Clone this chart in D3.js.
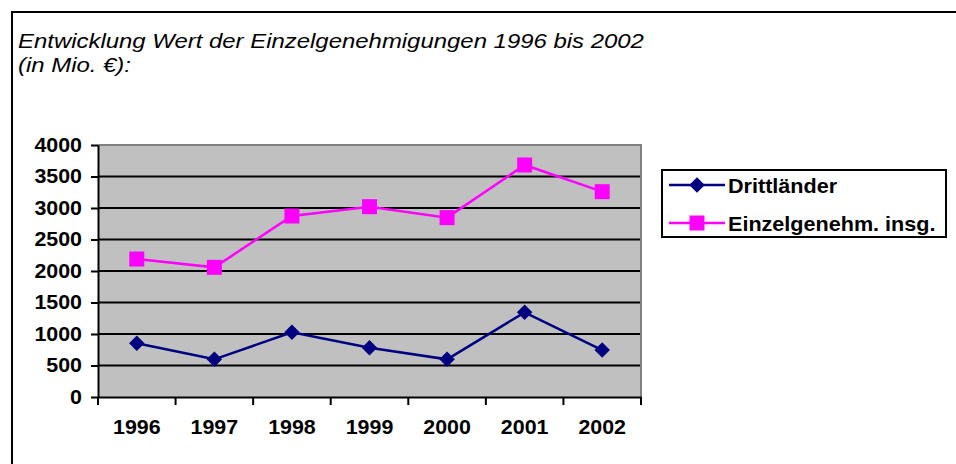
<!DOCTYPE html>
<meta charset="utf-8">
<style>
body { margin: 0; background: #ffffff; }
svg text { font-family: "Liberation Sans", Arial, sans-serif; fill: #000; }
</style>
<body>
<script src="https://cdn.jsdelivr.net/npm/d3@7"></script>
<script>
// DATA
var years = ["1996", "1997", "1998", "1999", "2000", "2001", "2002"];
var drittlaender = [852, 598, 1027, 783, 598, 1344, 746];
var einzelInsg = [2190, 2058, 2873, 3021, 2847, 3683, 3259];
var yTicks = [0, 500, 1000, 1500, 2000, 2500, 3000, 3500, 4000];
var seriesNames = ["Drittländer", "Einzelgenehm. insg."];
var titleLines = ["Entwicklung Wert der Einzelgenehmigungen 1996 bis 2002", "(in Mio. €):"];

// GENERIC VARIABLES
var width = 956, height = 464;
var plot = { left: 98, right: 641, top: 145, bottom: 397 };
var sx = 1.07; // the reference text is drawn a bit wide

var svg = d3.select("body").append("svg")
    .attr("width", width)
    .attr("height", height);

// outer frame (runs off the right and bottom edge)
svg.append("rect")
    .attr("x", 12).attr("y", 12)
    .attr("width", width).attr("height", height)
    .attr("fill", "none").attr("stroke", "#000").attr("stroke-width", 2);

// TITLE
titleLines.forEach(function(t, i) {
  svg.append("text")
    .attr("transform", "translate(18," + (48 + i * 24) + ") scale(1.14,1)")
    .attr("font-size", 21)
    .attr("font-style", "italic")
    .text(t);
});

var x = d3.scaleBand().domain(years).range([plot.left, plot.right]);
var y = d3.scaleLinear().domain([0, 4000]).range([plot.bottom, plot.top]);

// plot background
svg.append("rect")
    .attr("x", plot.left).attr("y", plot.top)
    .attr("width", plot.right - plot.left).attr("height", plot.bottom - plot.top)
    .attr("fill", "#c0c0c0");

// grid lines
svg.append("g").selectAll("line")
  .data(yTicks.filter(function(d) { return d > 0 && d < 4000; }))
  .enter().append("line")
    .attr("x1", plot.left).attr("x2", plot.right)
    .attr("y1", function(d) { return y(d); })
    .attr("y2", function(d) { return y(d); })
    .attr("stroke", "#000").attr("stroke-width", 2);

// gray border top / right
svg.append("path")
    .attr("d", "M" + plot.left + "," + plot.top + "H" + plot.right + "V" + plot.bottom)
    .attr("fill", "none").attr("stroke", "#808080").attr("stroke-width", 2);

// Y AXIS
var yAxis = svg.append("g")
    .attr("transform", "translate(" + plot.left + ",0)")
    .call(d3.axisLeft(y).tickValues(yTicks).tickFormat(d3.format("d"))
      .tickSize(7).tickPadding(8).tickSizeOuter(0));
yAxis.select(".domain").attr("stroke", "#000").attr("stroke-width", 2);
yAxis.selectAll(".tick line").attr("stroke", "#000").attr("stroke-width", 2);
yAxis.selectAll(".tick text")
    .attr("font-size", 20).attr("font-weight", "bold")
    .attr("font-family", "Liberation Sans, Arial, sans-serif")
    .attr("fill", "#000")
    .attr("x", -16 / sx)
    .attr("transform", "scale(" + sx + ",1)");

// X AXIS (ticks on band edges)
var xAxis = svg.append("g")
    .attr("transform", "translate(0," + plot.bottom + ")")
    .call(d3.axisBottom(x).tickSize(0).tickPadding(23).tickSizeOuter(0));
xAxis.select(".domain").attr("stroke", "#000").attr("stroke-width", 2);
xAxis.selectAll(".tick text")
    .attr("font-size", 20).attr("font-weight", "bold")
    .attr("font-family", "Liberation Sans, Arial, sans-serif")
    .attr("fill", "#000")
    .attr("transform", "scale(" + sx + ",1)");
var edges = years.map(function(d) { return x(d); }).concat([plot.right]);
xAxis.append("g").selectAll("line")
  .data(edges)
  .enter().append("line")
    .attr("x1", function(d) { return d; }).attr("x2", function(d) { return d; })
    .attr("y1", 0).attr("y2", 8)
    .attr("stroke", "#000").attr("stroke-width", 2);

// SERIES
var cx = function(d, i) { return x(years[i]) + x.bandwidth() / 2; };
var line = d3.line().x(cx).y(function(d) { return y(d); });
// diamond = square turned 45 degrees
var diamond = d3.symbol().type(d3.symbolSquare).size(120);
var square = d3.symbol().type(d3.symbolSquare).size(225);

var series = [
  { name: seriesNames[0], values: drittlaender, color: "#000080", symbol: diamond, rot: 45 },
  { name: seriesNames[1], values: einzelInsg, color: "#ff00ff", symbol: square, rot: 0 }
];

series.forEach(function(s) {
  svg.append("path")
    .attr("d", line(s.values))
    .attr("fill", "none").attr("stroke", s.color).attr("stroke-width", 2.5);
  svg.append("g").selectAll("path")
    .data(s.values)
    .enter().append("path")
      .attr("transform", function(d, i) {
        return "translate(" + cx(d, i) + "," + y(d) + ") rotate(" + s.rot + ")";
      })
      .attr("d", s.symbol)
      .attr("fill", s.color);
});

// LEGEND
var legend = svg.append("g");
legend.append("rect")
    .attr("x", 662).attr("y", 170).attr("width", 284).attr("height", 67)
    .attr("fill", "#fff").attr("stroke", "#000").attr("stroke-width", 2);
series.forEach(function(s, i) {
  var ly = 185 + i * 38;
  legend.append("line")
    .attr("x1", 669).attr("x2", 725).attr("y1", ly).attr("y2", ly)
    .attr("stroke", s.color).attr("stroke-width", 2.5);
  legend.append("path")
    .attr("transform", "translate(697," + ly + ") rotate(" + s.rot + ")")
    .attr("d", s.symbol)
    .attr("fill", s.color);
  legend.append("text")
    .attr("transform", "translate(728," + (ly + 7.5) + ") scale(" + 1.08 + ",1)")
    .attr("font-size", 20).attr("font-weight", "bold")
    .text(s.name);
});
</script>
</body>
